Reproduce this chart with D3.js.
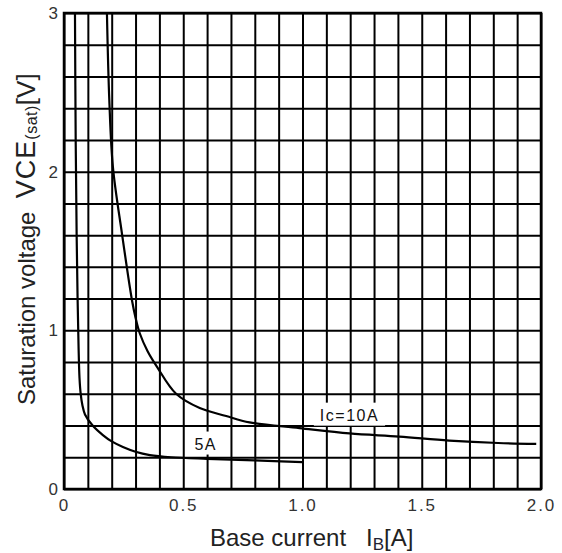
<!DOCTYPE html>
<html>
<head>
<meta charset="utf-8">
<script src="https://cdn.jsdelivr.net/npm/d3@7/dist/d3.min.js"></script>
<style>
body{margin:0;background:#fff;}
svg{display:block;font-family:"Liberation Sans",Arial,sans-serif;}
</style>
</head>
<body>
<div id="chart"></div>
<script>
// Ic = 5A curve (base current A, saturation voltage V)
var ib5A  = [0.046,0.049,0.053,0.057,0.061,0.065,0.07,0.077,0.088,0.12,0.163,0.2,0.247,0.3,0.36,0.45,0.6,0.8,1.0];
var vce5A = [3.0,2.2,1.6,1.2,0.9,0.7,0.6,0.53,0.47,0.4,0.34,0.3,0.265,0.235,0.214,0.2,0.19,0.18,0.17];
// Ic = 10A curve
var ib10A  = [0.18,0.19,0.205,0.243,0.285,0.3,0.318,0.35,0.39,0.47,0.569,0.68,0.778,0.987,1.197,1.406,1.615,1.82,1.98];
var vce10A = [3.0,2.45,2.03,1.61,1.19,1.08,0.98,0.87,0.77,0.6,0.51,0.46,0.42,0.384,0.35,0.33,0.305,0.29,0.285];

var xTickLabels = ['0','0.5','1.0','1.5','2.0'];
var yTickLabels = ['0','1','2','3'];
var curveNames = ['5A','Ic=10A'];
var curveNameAt = [[0.594,0.284],[1.197,0.466]];

var margin = {top:13,right:21,bottom:64,left:64};
var width = 562-margin.left-margin.right;
var height = 553-margin.top-margin.bottom;

var svg = d3.select('#chart')
    .append('svg')
        .attr('width',562)
        .attr('height',553)
    .append('g')
        .attr('transform','translate('+margin.left+','+margin.top+')');

var x = d3.scaleLinear().domain([0,2]).range([0,width]);
var y = d3.scaleLinear().domain([0,3]).range([height,0]);

// grid: 0.1 A and 0.2 V steps
svg.append('g')
    .attr('class','gridx')
    .attr('transform','translate(0,'+height+')')
    .call(d3.axisBottom(x).ticks(20).tickSize(-height).tickFormat(''))
    .call(g => g.select('.domain').remove());
svg.append('g')
    .attr('class','gridy')
    .call(d3.axisLeft(y).ticks(15).tickSize(-width).tickFormat(''))
    .call(g => g.select('.domain').remove());
svg.selectAll('.gridx line, .gridy line')
    .attr('stroke','#000')
    .attr('stroke-width',2);

// tick labels
svg.append('g')
    .attr('transform','translate(0,'+height+')')
    .call(d3.axisBottom(x).tickValues(xTickLabels.map(Number)).tickSize(0).tickPadding(10).tickFormat((d,i) => xTickLabels[i]))
    .call(g => g.select('.domain').remove())
    .selectAll('text')
        .attr('font-family','"Liberation Sans",Arial,sans-serif')
        .attr('font-size',17)
        .attr('letter-spacing',2)
        .attr('fill','#333');
svg.append('g')
    .call(d3.axisLeft(y).tickValues(yTickLabels.map(Number)).tickSize(0).tickPadding(6).tickFormat((d,i) => yTickLabels[i]))
    .call(g => g.select('.domain').remove())
    .selectAll('text')
        .attr('font-family','"Liberation Sans",Arial,sans-serif')
        .attr('font-size',17)
        .attr('fill','#333');

// frame
svg.append('rect')
    .attr('width',width)
    .attr('height',height)
    .attr('fill','none')
    .attr('stroke','#000')
    .attr('stroke-width',2.5);

// curve names on white boxes
var names = svg.selectAll('.cname')
    .data(curveNames)
    .enter()
    .append('g')
    .attr('class','cname')
    .attr('transform',(d,i) => 'translate('+x(curveNameAt[i][0])+','+y(curveNameAt[i][1])+')');
names.append('text')
    .attr('text-anchor','middle')
    .attr('dy','0.35em')
    .attr('font-size',16)
    .attr('letter-spacing',1.5)
    .attr('fill','#111')
    .text(d => d);
names.each(function(){
    var g = d3.select(this);
    var b = g.select('text').node().getBBox();
    g.insert('rect','text')
        .attr('x',b.x-6)
        .attr('y',b.y-4)
        .attr('width',b.width+12)
        .attr('height',b.height+6)
        .attr('fill','#fff');
});

// curves
var line = d3.line()
    .x(d => x(d[0]))
    .y(d => y(d[1]))
    .curve(d3.curveCatmullRom.alpha(0.5));
var series = [d3.zip(ib5A,vce5A), d3.zip(ib10A,vce10A)];
svg.selectAll('.curve')
    .data(series)
    .enter()
    .append('path')
    .attr('class','curve')
    .attr('d',line)
    .attr('fill','none')
    .attr('stroke','#000')
    .attr('stroke-width',2.2);

// axis titles
var xt = svg.append('text')
    .attr('x',146)
    .attr('y',height+57)
    .attr('font-size',24)
    .attr('fill','#222')
    .attr('xml:space','preserve');
xt.append('tspan').text('Base current   I');
xt.append('tspan').attr('font-size',17).attr('dy',4).attr('fill','#223').text('B');
xt.append('tspan').attr('dy',-4).text('[A]');

var yt = svg.append('text')
    .attr('transform','translate('+(-29)+','+(height-84)+') rotate(-90)')
    .attr('font-size',24)
    .attr('fill','#222')
    .attr('xml:space','preserve');
yt.append('tspan').text('Saturation voltage  ');
yt.append('tspan').attr('font-size',27).attr('letter-spacing',1).text('VCE');
yt.append('tspan').attr('font-size',16).attr('letter-spacing',0.5).attr('dy',2).text('(sat)');
yt.append('tspan').attr('font-size',26).attr('dy',-2).text('[V]');
</script>
</body>
</html>
